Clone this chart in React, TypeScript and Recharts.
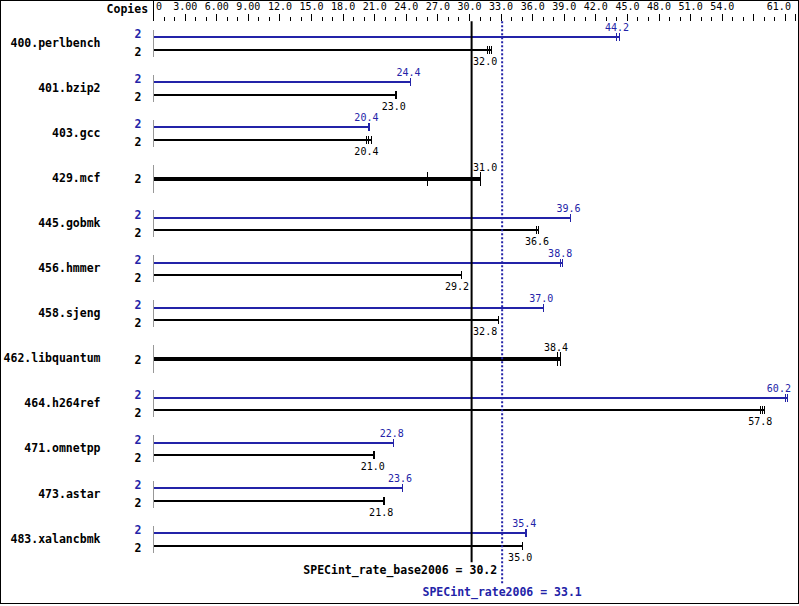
import React from 'react';
import { ComposedChart, Bar, XAxis, YAxis, ReferenceLine } from 'recharts';

// ---------- data ----------
const benchmarks = [
  '400.perlbench', '401.bzip2', '403.gcc', '429.mcf', '445.gobmk', '456.hmmer',
  '458.sjeng', '462.libquantum', '464.h264ref', '471.omnetpp', '473.astar', '483.xalancbmk',
];
const copiesPeak = [2, 2, 2, null, 2, 2, 2, null, 2, 2, 2, 2];
const copiesBase = [2, 2, 2, 2, 2, 2, 2, 2, 2, 2, 2, 2];
const peakRatios = [44.2, 24.4, 20.4, null, 39.6, 38.8, 37.0, null, 60.2, 22.8, 23.6, 35.4];
const baseRatios = [32.0, 23.0, 20.4, 31.0, 36.6, 29.2, 32.8, 38.4, 57.8, 21.0, 21.8, 35.0];
const peakRuns = [
  [44.0, 44.2], [24.4], [20.4, 20.5], [], [39.6], [38.6, 38.8],
  [37.0], [], [60.0, 60.2], [22.8], [23.6], [35.3, 35.4],
];
const baseRuns = [
  [31.7, 31.9, 32.1], [23.0, 23.1], [20.2, 20.4, 20.7], [26.0, 31.0], [36.4, 36.6], [29.2],
  [32.8], [38.4, 38.6], [57.6, 57.8, 58.0], [20.9, 21.0], [21.8, 21.9], [35.0],
];
const axisMax = 61;
const minorTickValues = Array.from({ length: axisMax + 1 }, (_, i) => i);
const majorTickValues = [0, 3, 6, 9, 12, 15, 18, 21, 24, 27, 30, 33, 36, 39, 42, 45, 48, 51, 54, 57, 60, 61];
const labelTickValues = [0, 3, 6, 9, 12, 15, 18, 21, 24, 27, 30, 33, 36, 39, 42, 45, 48, 51, 54, 61];
const labelTickTexts = [
  '0', '3.00', '6.00', '9.00', '12.0', '15.0', '18.0', '21.0', '24.0', '27.0',
  '30.0', '33.0', '36.0', '39.0', '42.0', '45.0', '48.0', '51.0', '54.0', '61.0',
];
const specBase = 30.2;
const specPeak = 33.1;
const baseMetricName = 'SPECint_rate_base2006';
const peakMetricName = 'SPECint_rate2006';

const data = benchmarks.map((name, i) => ({
  name,
  peak: peakRatios[i],
  base: baseRatios[i],
  peakRuns: peakRuns[i],
  baseRuns: baseRuns[i],
  peakEnd: peakRatios[i] == null ? null : Math.max(peakRatios[i] as number, ...peakRuns[i]),
  baseEnd: Math.max(baseRatios[i], ...baseRuns[i]),
  copiesPeak: copiesPeak[i],
  copiesBase: copiesBase[i],
}));

// ---------- style / layout ----------
const W = 799;
const H = 606;
const PLOT_LEFT = 153.6;
const PLOT_TOP = 21.2;
const MARGIN_RIGHT = 3.07;
const MARGIN_BOTTOM = 43.8;
const BAR_SIZE = 12;
const BAR_GAP = 0.5;
const BLUE = '#2323a8';
const MONO = '"DejaVu Sans Mono", monospace';
const VAL_FONT = 10;
const VAL_CHAR = VAL_FONT * 0.602;
const BOLD_FONT = 11.5;
const BOLD_CHAR = BOLD_FONT * 0.602;

type Guard = { x: number; before: number; after: number };
function placeLabel(cx: number, w: number, guards: Guard[], maxRight: number) {
  let left = cx - w / 2;
  for (const g of guards) {
    if (left - 3 < g.x && left + w + 3 > g.x) {
      const c = left + w / 2;
      if (c < g.x) left = g.x - g.before - w;
      else left = g.x + g.after;
    }
  }
  if (left + w > maxRight) left = maxRight - w;
  return left;
}

function makeShape(kind: 'peak' | 'base') {
  return (props: any) => {
    const { x, y, width, height, payload } = props;
    const value = kind === 'peak' ? payload.peak : payload.base;
    const end = kind === 'peak' ? payload.peakEnd : payload.baseEnd;
    if (value == null || !end || !width) return <g />;
    const single = payload.peak == null;
    const px = (v: number) => x + (width * v) / end;
    const color = kind === 'peak' ? BLUE : '#000';
    const slot = height + BAR_GAP;
    const cy = single ? Math.round(y + height / 2 - slot / 2) : Math.round(y + height / 2);
    const thick = single ? 4 : 2;
    const tickH = single ? 7 : 4;
    const runs: number[] = kind === 'peak' ? payload.peakRuns : payload.baseRuns;
    const txt = (value as number).toFixed(1);
    const w = txt.length * VAL_CHAR;
    const guards: Guard[] = [
      { x: px(specPeak), before: 5, after: 5 },
      { x: px(specBase), before: 2.5, after: 1.5 },
    ];
    const left = placeLabel(px(value) - 2, w, guards, px(axisMax) - 5);
    const ty = single ? cy - 8 : kind === 'peak' ? cy - 6.5 : cy + 14.5;
    const lx = Math.floor(x) + 0.5;
    return (
      <g>
        {kind === 'base' && (
          <line
            x1={lx}
            x2={lx}
            y1={single ? cy - 14 : cy - Math.round(slot) - 7}
            y2={single ? cy + 14 : cy + 7}
            stroke="#000"
            strokeWidth={1}
            shapeRendering="crispEdges"
          />
        )}
        <rect x={x} y={cy - thick / 2} width={width} height={thick} fill={color} shapeRendering="crispEdges" />
        {runs.map((r, k) => {
          const rx = Math.floor(px(r)) + 0.5;
          return (
            <line key={k} x1={rx} x2={rx} y1={cy - tickH} y2={cy + tickH} stroke={color} strokeWidth={1} shapeRendering="crispEdges" />
          );
        })}
        <text x={left} y={ty} fontFamily={MONO} fontSize={VAL_FONT} fill={color} textAnchor="start">
          {txt}
        </text>
      </g>
    );
  };
}

const PeakShape = makeShape('peak');
const BaseShape = makeShape('base');

const XTick = (props: any) => {
  const { x, payload } = props;
  const v = payload.value as number;
  const tx = Math.floor(x) + 0.5;
  const major = majorTickValues.includes(v);
  const li = labelTickValues.indexOf(v);
  let label: React.ReactNode = null;
  if (li >= 0) {
    const anchor = v === 0 ? 'start' : v === axisMax ? 'end' : 'middle';
    const lxPos = v === 0 ? x + 2.5 : v === axisMax ? x - 5 : x;
    label = (
      <text x={lxPos} y={10} fontFamily={MONO} fontSize={VAL_FONT} fill="#000" textAnchor={anchor}>
        {labelTickTexts[li]}
      </text>
    );
  }
  return (
    <g>
      <line
        x1={tx}
        x2={tx}
        y1={v === 0 ? 0 : major ? 14 : 17}
        y2={21}
        stroke="#000"
        strokeWidth={1}
        shapeRendering="crispEdges"
      />
      {label}
      {v === 0 && (
        <text x={x - 5.5} y={12.7} fontFamily={MONO} fontSize={BOLD_FONT} fontWeight="bold" fill="#000" textAnchor="end">
          Copies
        </text>
      )}
    </g>
  );
};

const YTick = (props: any) => {
  const { y, payload, index } = props;
  const row = data[index] ?? data.find((d) => d.name === payload.value);
  const single = row && row.peak == null;
  return (
    <g>
      <text x={100.5} y={y + 3} fontFamily={MONO} fontSize={BOLD_FONT} fontWeight="bold" fill="#000" textAnchor="end">
        {payload.value}
      </text>
      {single ? (
        <text x={141.5} y={y + 4.3} fontFamily={MONO} fontSize={BOLD_FONT} fontWeight="bold" fill="#000" textAnchor="end">
          {row.copiesBase}
        </text>
      ) : (
        <g>
          <text x={141.5} y={y - 5.5} fontFamily={MONO} fontSize={BOLD_FONT} fontWeight="bold" fill={BLUE} textAnchor="end">
            {row.copiesPeak}
          </text>
          <text x={141.5} y={y + 12.5} fontFamily={MONO} fontSize={BOLD_FONT} fontWeight="bold" fill="#000" textAnchor="end">
            {row.copiesBase}
          </text>
        </g>
      )}
    </g>
  );
};

const BaseMeanShape = (props: any) => {
  const { x1, y1, y2 } = props;
  const top = Math.min(y1, y2);
  const bottom = Math.max(y1, y2);
  const unit = (x1 - PLOT_LEFT) / specBase;
  const peakX = PLOT_LEFT + unit * specPeak;
  const txt = `${baseMetricName} = ${specBase.toFixed(1)}`;
  const w = txt.length * BOLD_CHAR;
  const left = placeLabel(x1, w, [{ x: peakX, before: 5, after: 5 }], W);
  return (
    <g>
      <line x1={x1} x2={x1} y1={top} y2={bottom} stroke="#000" strokeWidth={2} />
      <text x={left} y={bottom + 11.3} fontFamily={MONO} fontSize={BOLD_FONT} fontWeight="bold" fill="#000" textAnchor="start">
        {txt}
      </text>
    </g>
  );
};

const PeakMeanShape = (props: any) => {
  const { x1, y1, y2 } = props;
  const top = Math.min(y1, y2);
  const bottom = Math.max(y1, y2);
  const txt = `${peakMetricName} = ${specPeak.toFixed(1)}`;
  return (
    <g>
      <line x1={x1} x2={x1} y1={top} y2={bottom + 21} stroke={BLUE} strokeWidth={2} strokeDasharray="2 2" />
      <text x={x1} y={bottom + 34} fontFamily={MONO} fontSize={BOLD_FONT} fontWeight="bold" fill={BLUE} textAnchor="middle">
        {txt}
      </text>
    </g>
  );
};

export default function App() {
  return (
    <div style={{ position: 'absolute', left: 0, top: 0, width: W, height: H, background: '#fff' }}>
      <ComposedChart
        layout="vertical"
        width={W}
        height={H}
        data={data}
        margin={{ top: 0, right: MARGIN_RIGHT, bottom: MARGIN_BOTTOM, left: 0 }}
        barSize={BAR_SIZE}
        barGap={BAR_GAP}
      >
        <XAxis
          type="number"
          orientation="top"
          domain={[0, axisMax]}
          ticks={minorTickValues}
          interval={0}
          height={PLOT_TOP}
          axisLine={false}
          tickLine={false}
          tick={<XTick />}
          allowDataOverflow
        />
        <YAxis
          type="category"
          dataKey="name"
          width={PLOT_LEFT}
          axisLine={false}
          tickLine={false}
          interval={0}
          tick={<YTick />}
        />
        <Bar dataKey="peakEnd" shape={PeakShape} isAnimationActive={false} />
        <Bar dataKey="baseEnd" shape={BaseShape} isAnimationActive={false} />
        <ReferenceLine x={specBase} shape={BaseMeanShape} ifOverflow="visible" />
        <ReferenceLine x={specPeak} shape={PeakMeanShape} ifOverflow="visible" />
      </ComposedChart>
      <div
        style={{
          position: 'absolute',
          left: 0,
          top: 0,
          width: 799,
          height: 604,
          boxSizing: 'border-box',
          border: '1px solid #000',
          pointerEvents: 'none',
        }}
      />
    </div>
  );
}
